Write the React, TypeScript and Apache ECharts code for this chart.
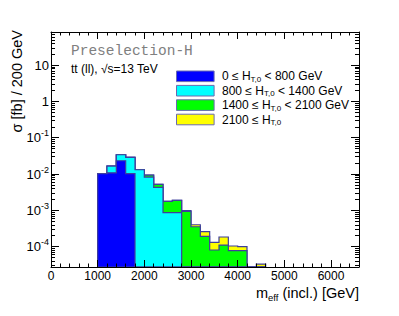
import React, { useEffect, useRef } from 'react';
import * as echarts from 'echarts';

// Bin edges (GeV), 200 GeV bins
const binEdges = [1000, 1200, 1400, 1600, 1800, 2000, 2200, 2400, 2600, 2800, 3000, 3200, 3400, 3600, 3800, 4000, 4200, 4400, 4600];

// Cross sections per bin [fb / 200 GeV] for each H_T,0 slice
const htLow = [0.0102, 0.0108, 0.0232, 0.0102, 0, 0, 0, 0, 0, 0, 0, 0, 0, 0, 0, 0, 0, 0];
const htMid = [0, 0.0058, 0.0108, 0.0185, 0.0131, 0.00826, 0.00428, 0.00086, 0.00086, 0, 0, 0, 0, 0, 0, 0, 0, 0];
const htHigh = [0, 0, 0, 0, 0, 0.0011, 0.00089, 0.0009, 0.00101, 0.00093, 0.000352, 0.000191, 0.0000805, 0.00011, 0.000077, 0.000077, 0, 0];
const htTop = [0, 0, 0, 0, 0, 0, 0, 0, 0, 0.00005, 0.000048, 0.000066, 0.00005, 0.000074, 0.000027, 0.000023, 0, 0.000033];

const legendLabels = [
  '0 ≤ H{sub|T,0} < 800 GeV',
  '800 ≤ H{sub|T,0} < 1400 GeV',
  '1400 ≤ H{sub|T,0} < 2100 GeV',
  '2100 ≤ H{sub|T,0}',
];
const fillColors = ['#0000ff', '#00ffff', '#00ff00', '#ffff00'];
const OUTLINE = '#3f3f9c';

const X_MIN = 0;
const X_MAX = 6600;
const Y_MIN = 2.74e-5;
const Y_MAX = 82;

export default function App() {
  const ref = useRef<HTMLDivElement>(null);

  useEffect(() => {
    if (!ref.current) return;
    const chart = echarts.init(ref.current, undefined, { renderer: 'svg' });

    const levels = [htLow, htMid, htHigh, htTop];
    const nBins = binEdges.length - 1;
    const cum = levels.map((_, k) =>
      Array.from({ length: nBins }, (_, i) => levels.slice(0, k + 1).reduce((s, a) => s + a[i], 0))
    );

    const series: any[] = [];
    for (let k = levels.length - 1; k >= 0; k--) {
      series.push({
        type: 'custom',
        coordinateSystem: 'cartesian2d',
        xAxisIndex: 0,
        yAxisIndex: 0,
        silent: true,
        clip: true,
        data: [[binEdges[0], Y_MIN]],
        renderItem: (params: any, api: any) => {
          const pts: number[][] = [];
          pts.push(api.coord([binEdges[0], Y_MIN]));
          for (let i = 0; i < nBins; i++) {
            const v = Math.max(cum[k][i], Y_MIN);
            pts.push(api.coord([binEdges[i], v]));
            pts.push(api.coord([binEdges[i + 1], v]));
          }
          pts.push(api.coord([binEdges[nBins], Y_MIN]));
          return {
            type: 'polygon',
            shape: { points: pts },
            style: { fill: fillColors[k], stroke: OUTLINE, lineWidth: 1.2 },
          };
        },
      });
    }

    const axisLineStyle = { color: '#000', width: 1 };
    const xAxisBase = {
      type: 'value',
      min: X_MIN,
      max: X_MAX,
      interval: 1000,
      z: 10,
      splitLine: { show: false },
      axisLine: { show: true, onZero: false, lineStyle: axisLineStyle },
      axisTick: { show: true, inside: true, length: 7, lineStyle: { color: '#000', width: 1 } },
      minorTick: { show: true, splitNumber: 5, length: 3.5, lineStyle: { color: '#000', width: 1 } },
      minorSplitLine: { show: false },
    };
    const yAxisBase = {
      type: 'log',
      logBase: 10,
      min: Y_MIN,
      max: Y_MAX,
      z: 10,
      splitLine: { show: false },
      axisLine: { show: true, onZero: false, lineStyle: axisLineStyle },
      axisTick: { show: true, inside: true, length: 8, lineStyle: { color: '#000', width: 1 } },
      minorTick: { show: true, splitNumber: 9, length: 4, lineStyle: { color: '#000', width: 1 } },
      minorSplitLine: { show: false },
    };

    const legendGraphics: any[] = [];
    legendLabels.forEach((label, i) => {
      const cy = 76.3 + i * 14.4;
      legendGraphics.push({
        type: 'rect',
        shape: { x: 176.5, y: cy - 5.3, width: 37.6, height: 10.6 },
        style: { fill: fillColors[i], stroke: '#6a6ab0', lineWidth: 1 },
      });
      legendGraphics.push({
        type: 'text',
        x: 222,
        y: cy,
        style: {
          text: label,
          fill: '#000',
          fontSize: 12,
          fontFamily: 'Liberation Sans, Arial, sans-serif',
          verticalAlign: 'middle',
          align: 'left',
          lineHeight: 14,
          rich: {
            sub: { fontSize: 8, fontFamily: 'Liberation Sans, Arial, sans-serif', lineHeight: 8, verticalAlign: 'bottom', fill: '#000' },
          },
        },
      });
    });

    chart.setOption({
      animation: false,
      backgroundColor: '#ffffff',
      grid: { left: 51, right: 40, top: 32, bottom: 49, containLabel: false },
      xAxis: [
        {
          ...xAxisBase,
          position: 'bottom',
          axisLabel: {
            show: true,
            showMaxLabel: false,
            margin: 3,
            fontSize: 12,
            color: '#000',
            fontFamily: 'Liberation Sans, Arial, sans-serif',
            formatter: (v: number) => String(Math.round(v)),
          },
        },
        { ...xAxisBase, position: 'top', axisLabel: { show: false } },
      ],
      yAxis: [
        {
          ...yAxisBase,
          position: 'left',
          axisLabel: {
            show: true,
            showMinLabel: false,
            showMaxLabel: false,
            margin: 2,
            fontSize: 13,
            color: '#000',
            fontFamily: 'Liberation Sans, Arial, sans-serif',
            lineHeight: 18,
            formatter: (v: number) => {
              const lg = Math.log10(v);
              const e = Math.round(lg);
              if (Math.abs(lg - e) > 1e-6) return '';
              if (e === 0) return '{b|1}';
              if (e === 1) return '{b|10}';
              return '{b|10}{sup|' + e + '}';
            },
            rich: {
              b: { fontSize: 13, lineHeight: 18, fontFamily: 'Liberation Sans, Arial, sans-serif', color: '#000' },
              sup: { fontSize: 9, lineHeight: 10, verticalAlign: 'top', fontFamily: 'Liberation Sans, Arial, sans-serif', color: '#000' },
            },
          },
        },
        { ...yAxisBase, position: 'right', axisLabel: { show: false } },
      ],
      series,
      graphic: [
        {
          type: 'text',
          x: 71,
          y: 50.5,
          style: {
            text: 'Preselection-H',
            fill: '#808080',
            fontSize: 14.5,
            fontFamily: 'Liberation Mono, Courier New, monospace',
            verticalAlign: 'middle',
            align: 'left',
          },
        },
        {
          type: 'text',
          x: 71,
          y: 69,
          style: {
            text: 'tt (ll), √s=13 TeV',
            fill: '#000',
            fontSize: 12,
            fontFamily: 'Liberation Sans, Arial, sans-serif',
            verticalAlign: 'middle',
            align: 'left',
          },
        },
        ...legendGraphics,
        {
          type: 'text',
          x: 17,
          y: 30,
          rotation: Math.PI / 2,
          style: {
            text: 'σ [fb] / 200 GeV',
            fill: '#000',
            fontSize: 14.5,
            fontFamily: 'Liberation Sans, Arial, sans-serif',
            verticalAlign: 'middle',
            align: 'right',
          },
        },
        {
          type: 'text',
          x: 359,
          y: 293,
          style: {
            text: '{a|m}{sub|eff}{a| (incl.) [GeV]}',
            fill: '#000',
            fontSize: 14.5,
            fontFamily: 'Liberation Sans, Arial, sans-serif',
            verticalAlign: 'middle',
            align: 'right',
            rich: {
              a: { fontSize: 14.5, lineHeight: 18, fontFamily: 'Liberation Sans, Arial, sans-serif', fill: '#000' },
              sub: { fontSize: 9.5, lineHeight: 9, verticalAlign: 'bottom', fontFamily: 'Liberation Sans, Arial, sans-serif', fill: '#000' },
            },
          },
        },
      ],
    });

    return () => chart.dispose();
  }, []);

  return (
    <div
      ref={ref}
      style={{ position: 'fixed', left: 0, top: 0, width: 399, height: 316, background: '#fff' }}
    />
  );
}
